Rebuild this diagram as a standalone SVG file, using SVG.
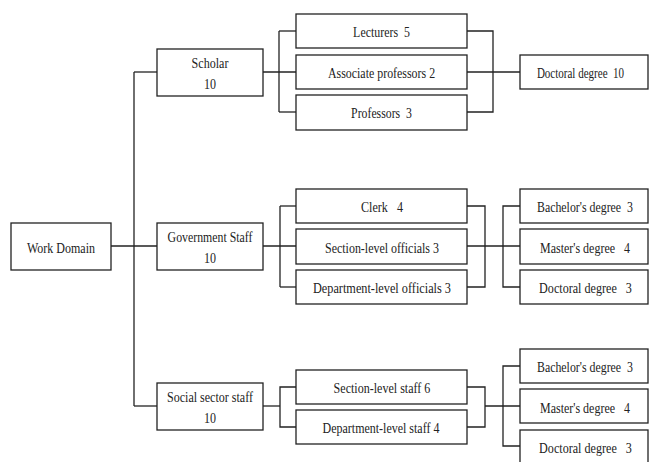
<svg xmlns="http://www.w3.org/2000/svg" width="650" height="462" viewBox="0 0 650 462">
  <style>
    rect { fill: #ffffff; stroke: #222222; stroke-width: 1.3; }
    .wire { fill: none; stroke: #222222; stroke-width: 1.3; }
    text { font-family: "Liberation Serif", "Times New Roman", serif; font-size: 15px; fill: #222222; text-anchor: middle; white-space: pre; }
  </style>
  <rect x="0" y="0" width="650" height="462" style="fill:#ffffff;stroke:none"/>

  <!-- connectors -->
  <g id="connectors" class="wire">
    <!-- root to first level -->
    <path d="M111,246 H157"/>
    <path d="M134,72 V406"/>
    <path d="M134,72 H157"/>
    <path d="M134,406 H157"/>
    <!-- scholar branch -->
    <path d="M263,72 H296"/>
    <path d="M279,31 V112"/>
    <path d="M279,31 H296"/>
    <path d="M279,112 H296"/>
    <path d="M467,31 H493 V112 H467"/>
    <path d="M467,72 H520"/>
    <!-- government staff branch -->
    <path d="M263,246 H296"/>
    <path d="M280,206 V287"/>
    <path d="M280,206 H296"/>
    <path d="M280,287 H296"/>
    <path d="M467,206 H485 V287 H467"/>
    <path d="M467,246 H520"/>
    <path d="M520,206 H503 V287 H520"/>
    <!-- social sector branch -->
    <path d="M263,406 H280"/>
    <path d="M296,387 H280 V427 H296"/>
    <path d="M467,387 H485 V427 H467"/>
    <path d="M485,406 H520"/>
    <path d="M520,366 H503 V446 H520"/>
  </g>

  <!-- labels use a narrow Times face: glyphs squeezed to 80% width -->
  <g id="work-domain">
    <rect x="11" y="223" width="100" height="47"/>
    <text transform="scale(0.8,1)" x="76.25" y="253" textLength="85" lengthAdjust="spacingAndGlyphs">Work Domain</text>
  </g>

  <g id="scholar">
    <rect x="157" y="49" width="106" height="47"/>
    <text transform="scale(0.8,1)" x="262.5" y="68" textLength="46" lengthAdjust="spacingAndGlyphs">Scholar</text>
    <text transform="scale(0.8,1)" x="262.5" y="89" textLength="15" lengthAdjust="spacingAndGlyphs">10</text>
  </g>
  <g id="government-staff">
    <rect x="157" y="223" width="106" height="47"/>
    <text transform="scale(0.8,1)" x="262.5" y="242" textLength="106" lengthAdjust="spacingAndGlyphs">Government Staff</text>
    <text transform="scale(0.8,1)" x="262.5" y="263" textLength="15" lengthAdjust="spacingAndGlyphs">10</text>
  </g>
  <g id="social-sector-staff">
    <rect x="157" y="383" width="106" height="47"/>
    <text transform="scale(0.8,1)" x="262.5" y="402" textLength="107.5" lengthAdjust="spacingAndGlyphs">Social sector staff</text>
    <text transform="scale(0.8,1)" x="262.5" y="423" textLength="15" lengthAdjust="spacingAndGlyphs">10</text>
  </g>

  <g id="lecturers">
    <rect x="296" y="14" width="171" height="34"/>
    <text xml:space="preserve" transform="scale(0.8,1)" x="476.9" y="37" textLength="71" lengthAdjust="spacingAndGlyphs">Lecturers  5</text>
  </g>
  <g id="associate-professors">
    <rect x="296" y="55" width="171" height="34"/>
    <text transform="scale(0.8,1)" x="476.9" y="78" textLength="134" lengthAdjust="spacingAndGlyphs">Associate professors 2</text>
  </g>
  <g id="professors">
    <rect x="296" y="95" width="171" height="35"/>
    <text xml:space="preserve" transform="scale(0.8,1)" x="476.9" y="118" textLength="76" lengthAdjust="spacingAndGlyphs">Professors  3</text>
  </g>
  <g id="scholar-doctoral">
    <rect x="520" y="55" width="128" height="34"/>
    <text xml:space="preserve" transform="scale(0.8,1)" x="725.6" y="78" textLength="109" lengthAdjust="spacingAndGlyphs">Doctoral degree  10</text>
  </g>

  <g id="clerk">
    <rect x="296" y="189" width="171" height="34"/>
    <text xml:space="preserve" transform="scale(0.8,1)" x="477.5" y="212" textLength="52.5" lengthAdjust="spacingAndGlyphs">Clerk   4</text>
  </g>
  <g id="section-officials">
    <rect x="296" y="229" width="171" height="35"/>
    <text transform="scale(0.8,1)" x="477.5" y="253" textLength="142.5" lengthAdjust="spacingAndGlyphs">Section-level officials 3</text>
  </g>
  <g id="department-officials">
    <rect x="296" y="270" width="171" height="34"/>
    <text transform="scale(0.8,1)" x="477.5" y="293" textLength="172.5" lengthAdjust="spacingAndGlyphs">Department-level officials 3</text>
  </g>
  <g id="gov-bachelor">
    <rect x="520" y="189" width="128" height="34"/>
    <text xml:space="preserve" transform="scale(0.8,1)" x="731.25" y="212" textLength="120" lengthAdjust="spacingAndGlyphs">Bachelor's degree  3</text>
  </g>
  <g id="gov-master">
    <rect x="520" y="229" width="128" height="35"/>
    <text xml:space="preserve" transform="scale(0.8,1)" x="731.25" y="253" textLength="112.5" lengthAdjust="spacingAndGlyphs">Master's degree   4</text>
  </g>
  <g id="gov-doctoral">
    <rect x="520" y="270" width="128" height="34"/>
    <text xml:space="preserve" transform="scale(0.8,1)" x="731.9" y="293" textLength="116" lengthAdjust="spacingAndGlyphs">Doctoral degree   3</text>
  </g>

  <g id="section-staff">
    <rect x="296" y="370" width="171" height="34"/>
    <text transform="scale(0.8,1)" x="477.5" y="393" textLength="121" lengthAdjust="spacingAndGlyphs">Section-level staff 6</text>
  </g>
  <g id="department-staff">
    <rect x="296" y="410" width="171" height="34"/>
    <text transform="scale(0.8,1)" x="476.25" y="433" textLength="146" lengthAdjust="spacingAndGlyphs">Department-level staff 4</text>
  </g>
  <g id="social-bachelor">
    <rect x="520" y="349" width="128" height="34"/>
    <text xml:space="preserve" transform="scale(0.8,1)" x="731.25" y="372" textLength="120" lengthAdjust="spacingAndGlyphs">Bachelor's degree  3</text>
  </g>
  <g id="social-master">
    <rect x="520" y="389" width="128" height="34"/>
    <text xml:space="preserve" transform="scale(0.8,1)" x="731.25" y="413" textLength="112.5" lengthAdjust="spacingAndGlyphs">Master's degree   4</text>
  </g>
  <g id="social-doctoral">
    <rect x="520" y="430" width="128" height="40"/>
    <text xml:space="preserve" transform="scale(0.8,1)" x="731.9" y="453" textLength="116" lengthAdjust="spacingAndGlyphs">Doctoral degree   3</text>
  </g>
</svg>
